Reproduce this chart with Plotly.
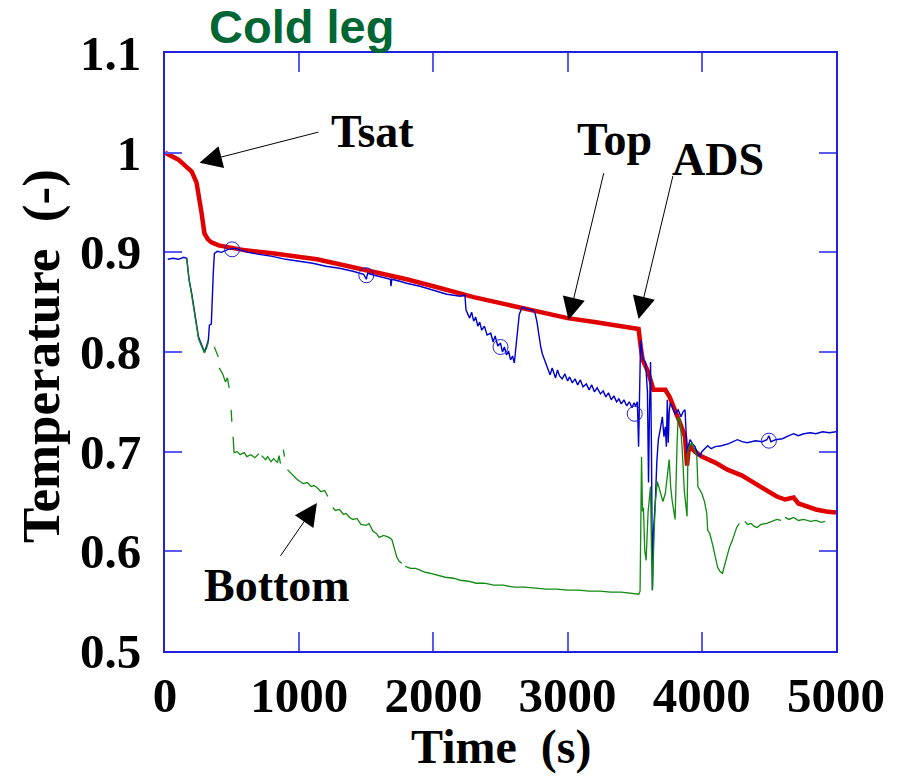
import plotly.graph_objects as go

# ---------------- data ----------------
tsat_t = [0, 100, 199, 235, 272, 294, 320, 346, 400, 470, 600, 800, 1000, 1132, 1300, 1500, 1618, 1800,
          2000, 2110, 2300, 2500, 2700, 3000, 3200, 3400, 3529, 3545, 3559, 3600, 3640, 3700, 3728, 3760,
          3801, 3840, 3875, 3885, 3890, 3900, 3912, 3950, 4000, 4100, 4191, 4300, 4390, 4480, 4559, 4620,
          4684, 4720, 4779, 4850, 4926, 5000]
tsat_v = [1.0, 0.993, 0.981, 0.970, 0.940, 0.919, 0.913, 0.910, 0.907, 0.905, 0.902, 0.899, 0.895, 0.893,
          0.888, 0.882, 0.879, 0.873, 0.866, 0.862, 0.855, 0.849, 0.843, 0.834, 0.830, 0.826, 0.823, 0.805,
          0.792, 0.780, 0.762, 0.762, 0.762, 0.755, 0.742, 0.728, 0.715, 0.700, 0.686, 0.700, 0.705, 0.700,
          0.695, 0.689, 0.682, 0.676, 0.669, 0.662, 0.655, 0.652, 0.654, 0.648, 0.645, 0.642, 0.640, 0.639]

top_t = [20, 60, 100, 140, 162, 180, 200, 213, 230, 250, 270, 294, 310, 323, 331, 345, 350, 353, 360, 368,
         390, 420,
         470, 520, 566, 620, 700, 800, 900, 1000, 1100, 1200, 1300, 1400, 1480, 1500, 1510, 1560, 1620, 1680,
         1684, 1690, 1750, 1800, 1900, 2000, 2100, 2200,
         2235, 2243, 2255, 2270, 2285, 2300, 2315, 2331, 2345, 2360, 2380, 2400, 2427, 2445, 2460, 2480, 2500,
         2515, 2529, 2545, 2560, 2575, 2590, 2603, 2615, 2630, 2640, 2662,
         2700, 2740, 2757, 2772, 2787, 2800, 2812, 2824, 2840, 2855, 2870, 2885, 2897, 2910, 2925, 2940, 2960,
         2980, 3000, 3015, 3035, 3055, 3075, 3095, 3115, 3140, 3160, 3180, 3200, 3220, 3245, 3265, 3285, 3305,
         3325, 3345, 3365, 3382, 3400, 3420, 3440, 3460, 3480, 3495, 3507, 3520,
         3529, 3537, 3544, 3560, 3581, 3595, 3603, 3610, 3618, 3625, 3632, 3640, 3654, 3665, 3676, 3690, 3706,
         3718, 3728, 3736, 3743, 3750, 3757, 3765, 3780, 3800, 3824, 3845, 3860, 3875, 3882, 3890, 3900, 3912,
         3930, 3949, 3970, 3985, 4000,
         4020, 4044, 4070, 4100, 4147, 4200, 4265, 4300, 4338, 4400, 4450, 4485, 4500, 4515, 4550, 4600, 4650,
         4684, 4720, 4760, 4809, 4850, 4900, 4950, 5000]
top_v = [0.893, 0.894, 0.893, 0.895, 0.894, 0.872, 0.858, 0.845, 0.832, 0.815, 0.808, 0.800, 0.806, 0.812,
         0.827, 0.828, 0.845, 0.859, 0.880, 0.899, 0.901, 0.900,
         0.903, 0.904, 0.902, 0.900, 0.898, 0.896, 0.893, 0.891, 0.889, 0.886, 0.884, 0.881, 0.878, 0.873,
         0.879, 0.877, 0.875, 0.873, 0.866, 0.873, 0.871, 0.869, 0.866, 0.862, 0.858, 0.856,
         0.857, 0.842, 0.838, 0.834, 0.840, 0.831, 0.835, 0.826, 0.830, 0.822, 0.826, 0.817, 0.819, 0.810,
         0.816, 0.806, 0.809, 0.800, 0.805, 0.797, 0.801, 0.792, 0.796, 0.789, 0.805, 0.825, 0.838, 0.845,
         0.843, 0.842, 0.839, 0.830, 0.815, 0.805, 0.798, 0.794, 0.787, 0.782, 0.777, 0.784, 0.779, 0.774,
         0.782, 0.776, 0.773, 0.778, 0.771, 0.775, 0.769, 0.773, 0.767, 0.772, 0.765, 0.768, 0.762, 0.767,
         0.760, 0.764, 0.758, 0.761, 0.755, 0.759, 0.752, 0.756, 0.750, 0.753, 0.748, 0.752, 0.746, 0.750,
         0.744, 0.749, 0.746, 0.750,
         0.705, 0.760, 0.812, 0.794, 0.789, 0.760, 0.669, 0.740, 0.790, 0.700, 0.561, 0.620, 0.651, 0.690,
         0.712, 0.722, 0.735, 0.715, 0.725, 0.705, 0.752, 0.709, 0.740, 0.749, 0.745, 0.738, 0.742, 0.735,
         0.740, 0.742, 0.720, 0.699, 0.705, 0.712, 0.708, 0.705, 0.698, 0.695, 0.700,
         0.703, 0.706, 0.703, 0.705, 0.706, 0.708, 0.712, 0.710, 0.709, 0.711, 0.710, 0.712, 0.716, 0.710,
         0.712, 0.713, 0.716, 0.718, 0.716, 0.718, 0.719, 0.718, 0.720, 0.719, 0.720]

bot_t = [162, 180, 200, 213, 230, 250, 270, 294, 310, 323, None,
         368, 380, 397, None, 404, 430, 450, 465, 478, None, 493, 498, None,
         507, 512, 515, 540, 560, 590, 610, 640, 670, 700, None,
         720, 750, 765, 790, 810, 838, 850, 860, None, 882, 890, None,
         912, 940, 960, 985, 1007, 1030, 1060, 1090, 1110, 1132, 1160, 1190, 1213, None,
         1250, 1270, 1300, 1330, 1350, 1375, 1400, 1430, 1460, 1500, 1520, 1550, 1575, 1596, 1630, 1669,
         1690, 1710, 1728, 1745, 1765, None,
         1790, 1830, 1868, 1900, 1940, 1980, 2030, 2088, 2150, 2200, 2260, 2320, 2380, 2450, 2520, 2600,
         2680, 2760, 2840, 2920, 3000, 3080, 3160, 3240, 3320, 3400, 3480, 3530,
         3540, 3551, 3558, 3565, 3575, 3585, 3600, 3618, 3625, 3632, 3645, 3654, 3669, 3690, 3710, 3728,
         3743, 3757, 3768, 3779, 3801, 3808, 3816, 3824, 3840, 3855, 3870, 3890, 3897, 3910, 3926, 3950,
         3963, 3971, 4000, 4020, 4037, 4044, 4059, 4080, 4096, 4110, 4118, 4135, 4154, 4170, 4184, 4206,
         4225, 4243, 4260, 4279, None,
         4320, 4340, 4368, 4390, 4412, 4440, 4485, 4520, 4559, 4590, None,
         4620, 4650, 4684, 4720, 4760, 4809, 4850, 4890, 4919]
bot_v = [0.894, 0.872, 0.856, 0.843, 0.830, 0.813, 0.806, 0.799, 0.804, 0.810, None,
         0.805, 0.800, 0.795, None, 0.784, 0.778, 0.770, 0.774, 0.764, None, 0.742, 0.730, None,
         0.715, 0.705, 0.699, 0.700, 0.697, 0.699, 0.695, 0.697, 0.694, 0.698, None,
         0.696, 0.692, 0.695, 0.690, 0.693, 0.689, 0.696, 0.688, None, 0.702, 0.695, None,
         0.682, 0.678, 0.675, 0.672, 0.670, 0.668, 0.669, 0.665, 0.666, 0.664, 0.660, 0.661, 0.655, None,
         0.644, 0.641, 0.642, 0.637, 0.638, 0.634, 0.632, 0.633, 0.627, 0.626, 0.628, 0.620, 0.618, 0.614,
         0.616, 0.614, 0.612, 0.603, 0.594, 0.590, 0.588, None,
         0.585, 0.583, 0.583, 0.581, 0.579, 0.578, 0.576, 0.574, 0.573, 0.571, 0.570, 0.568, 0.568, 0.566,
         0.566, 0.564, 0.564, 0.563, 0.562, 0.562, 0.561, 0.561, 0.560, 0.560, 0.559, 0.559, 0.558, 0.557,
         0.560, 0.695, 0.640, 0.644, 0.601, 0.591, 0.640, 0.665, 0.600, 0.561, 0.620, 0.650, 0.670, 0.660,
         0.650, 0.658, 0.678, 0.692, 0.665, 0.651, 0.632, 0.680, 0.709, 0.735, 0.730, 0.700, 0.660, 0.635,
         0.702, 0.706, 0.709, 0.700, 0.695, 0.665, 0.658, 0.650, 0.638, 0.621, 0.618, 0.607, 0.598, 0.590,
         0.584, 0.580, 0.578, 0.586, 0.594, 0.604, 0.610, 0.618, 0.624, 0.628, None,
         0.630, 0.627, 0.628, 0.625, 0.624, 0.627, 0.628, 0.630, 0.632, 0.631, None,
         0.634, 0.632, 0.634, 0.631, 0.632, 0.630, 0.631, 0.629, 0.630]

mark_t = [500, 1500, 2500, 3500, 4500]
mark_v = [0.903, 0.877, 0.805, 0.738, 0.711]

x_ticks = [0, 1000, 2000, 3000, 4000, 5000]
y_ticks = [0.5, 0.6, 0.7, 0.8, 0.9, 1.0, 1.1]
y_tick_text = ["0.5", "0.6", "0.7", "0.8", "0.9", "1", "1.1"]

# labels: (text, x, y) and arrows: (head_x, head_y, tail_x, tail_y)
labels = [("Tsat", 1544, 1.021), ("Top", 3353, 1.013), ("ADS", 4118, 0.993), ("Bottom", 838, 0.566)]
arrows = [(257, 0.990, 1154, 1.021), (3007, 0.832, 3272, 0.981),
          (3529, 0.833, 3787, 0.978), (1132, 0.6485, 853, 0.594)]

# ---------------- figure ----------------
SERIF = "Liberation Serif"
fig = go.Figure()
fig.add_trace(go.Scatter(x=tsat_t, y=tsat_v, mode="lines",
                         line=dict(color="#e00000", width=4.5), showlegend=False))
fig.add_trace(go.Scatter(x=top_t, y=top_v, mode="lines",
                         line=dict(color="#0000d0", width=1.4), showlegend=False))
fig.add_trace(go.Scatter(x=bot_t, y=bot_v, mode="lines", connectgaps=False,
                         line=dict(color="#108a10", width=1.3), showlegend=False))
fig.add_trace(go.Scatter(x=mark_t, y=mark_v, mode="markers",
                         marker=dict(symbol="circle-open", size=15, color="#2020e0",
                                     line=dict(width=1, color="#2020e0")), showlegend=False))

for text, x, y in labels:
    fig.add_annotation(x=x, y=y, xref="x", yref="y", text=text, showarrow=False,
                       xanchor="center", yanchor="middle",
                       font=dict(family=SERIF, size=46, color="black", weight="bold"))
for hx, hy, tx, ty in arrows:
    fig.add_annotation(x=hx, y=hy, ax=tx, ay=ty, xref="x", yref="y", axref="x", ayref="y",
                       text="", showarrow=True, arrowhead=2, arrowsize=4.5, arrowwidth=1,
                       arrowcolor="black", standoff=0, startstandoff=0)

fig.add_annotation(x=0.203, y=1.044, xref="paper", yref="paper", text="Cold leg", showarrow=False,
                   xanchor="center", yanchor="middle",
                   font=dict(family="Liberation Sans", size=47, color="#006633", weight="bold"))
fig.add_annotation(x=0.5, y=-0.16, xref="paper", yref="paper", text="Time  (s)", showarrow=False,
                   xanchor="center", yanchor="middle",
                   font=dict(family=SERIF, size=48, color="black", weight="bold"))
fig.add_annotation(x=-0.185, y=0.493, xref="paper", yref="paper", text="Temperature  (-)",
                   showarrow=False, textangle=-90, xanchor="center", yanchor="middle",
                   font=dict(family=SERIF, size=53, color="black", weight="bold"))

axis_common = dict(showgrid=False, zeroline=False, showline=True, linecolor="#2020e0", linewidth=2,
                   mirror="ticks", ticks="inside", tickcolor="#5a5af0", tickwidth=1.5,
                   tickfont=dict(family=SERIF, size=49, color="black", weight="bold"))
fig.update_xaxes(range=[0, 5000], tickvals=x_ticks, ticktext=[str(v) for v in x_ticks],
                 ticklen=19, **axis_common)
fig.update_yaxes(range=[0.5, 1.1], tickvals=y_ticks, ticktext=y_tick_text, ticklen=17,
                 ticklabelstandoff=12, **axis_common)

fig.update_layout(width=897, height=776, plot_bgcolor="white", paper_bgcolor="white",
                  margin=dict(l=165, r=51, t=53, b=125), showlegend=False)

fig.write_html("out.html")
